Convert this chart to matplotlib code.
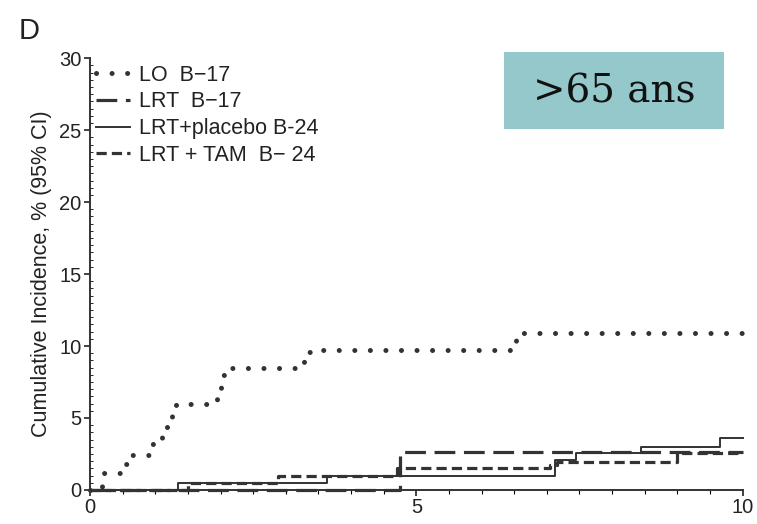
import matplotlib.pyplot as plt
from matplotlib.ticker import MultipleLocator
from matplotlib.patches import Rectangle

plt.rcParams['font.family'] = ['Liberation Sans', 'DejaVu Sans']

# step curves: time (years) and cumulative incidence (%)
lo_t = [0, 0.18, 0.55, 0.62, 0.68, 0.92, 1.0, 1.1, 1.18, 1.26, 1.32, 1.95, 2.0, 2.03, 2.06, 3.28, 3.36, 3.44, 6.45, 6.52, 6.58, 10]
lo_y = [0, 1.2, 1.8, 2.4, 2.4, 3.2, 3.6, 4.2, 4.9, 5.6, 6.0, 6.6, 7.5, 8.0, 8.5, 9.1, 9.6, 9.7, 10.2, 10.6, 10.9, 10.9]

lrt17_t = [0, 4.75, 10]
lrt17_y = [0, 2.65, 2.65]

plac_t = [0, 1.35, 3.63, 7.12, 7.45, 8.45, 9.65, 10]
plac_y = [0, 0.5, 1.0, 2.05, 2.6, 3.0, 3.6, 3.6]

tam_t = [0, 1.5, 2.88, 4.7, 7.05, 7.15, 9.0, 10]
tam_y = [0, 0.5, 1.0, 1.5, 1.7, 1.95, 2.6, 2.6]

labels = ['LO  B\u221217', 'LRT  B\u221217', 'LRT+placebo B-24', 'LRT + TAM  B\u2212 24']

col = '#333333'
fig = plt.figure(figsize=(7.57, 5.24), dpi=100)
ax = fig.add_axes([0.119, 0.065, 0.862, 0.824])

ax.step(lo_t, lo_y, where='post', color=col, lw=3.6, linestyle=(0, (0.01, 3.1)),
        dash_capstyle='round', clip_on=False, label=labels[0])
ax.step(lrt17_t, lrt17_y, where='post', color=col, lw=2.3, linestyle=(0, (6.5, 2.7)),
        clip_on=False, label=labels[1])
ax.step(plac_t, plac_y, where='post', color=col, lw=1.4, clip_on=False, label=labels[2])
ax.step(tam_t, tam_y, where='post', color=col, lw=2.3, linestyle=(0, (3.2, 1.6)),
        clip_on=False, label=labels[3])

ax.set_xlim(0, 10)
ax.set_ylim(0, 30)
ax.set_xticks([0, 5, 10])
ax.set_yticks([0, 5, 10, 15, 20, 25, 30])
ax.xaxis.set_minor_locator(MultipleLocator(0.5))
ax.yaxis.set_minor_locator(MultipleLocator(0.5))
ax.tick_params(axis='both', which='major', direction='out', length=4, width=1.2,
               labelsize=14.5, colors='#222222', pad=2)
ax.tick_params(axis='x', which='minor', direction='out', length=3, width=0.8)
ax.tick_params(axis='y', which='minor', direction='in', length=2, width=0.6)
for s in ['top', 'right']:
    ax.spines[s].set_visible(False)
for s in ['left', 'bottom']:
    ax.spines[s].set_linewidth(1.4)
    ax.spines[s].set_color('#333333')

ax.set_ylabel('Cumulative Incidence, % (95% CI)', fontsize=15.5, color='#222222', labelpad=5)

leg = ax.legend(loc='upper left', bbox_to_anchor=(-0.021, 1.03), frameon=False,
                fontsize=15.5, handlelength=1.6, handletextpad=0.4, labelspacing=0.27)
for t in leg.get_texts():
    t.set_color('#222222')

fig.text(0.025, 0.925, 'D', fontsize=21, color='#222222')

# age group box
fig.patches.append(Rectangle((504 / 757, 1 - 129 / 524), 220 / 757, 77 / 524,
                             transform=fig.transFigure, facecolor='#95c8cb', edgecolor='none'))
fig.text(614 / 757, 1 - 92 / 524, '>65 ans', fontsize=28, family='DejaVu Serif',
         ha='center', va='center', color='#111111')

fig.savefig('out.png', dpi=100)
